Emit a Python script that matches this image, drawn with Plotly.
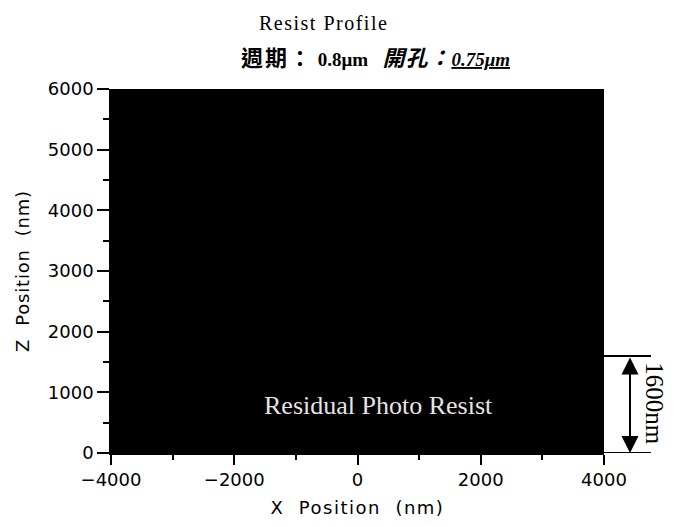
import plotly.graph_objects as go

# Data
profile_x = [-4000, 4000]          # resist extent (nm)
profile_top = [6000, 6000]         # resist top surface (nm)
residual_thickness = 1600          # nm
x_ticks = [-4000, -2000, 0, 2000, 4000]
x_ticklabels = ["\u22124000", "\u22122000", "0", "2000", "4000"]
y_ticks = [0, 1000, 2000, 3000, 4000, 5000, 6000]

fig = go.Figure()
fig.add_trace(go.Scatter(
    x=profile_x, y=profile_top, mode="lines", fill="tozeroy",
    line=dict(color="black", width=0), fillcolor="black",
    showlegend=False, hoverinfo="skip"))

axis_font = dict(family="DejaVu Sans", size=18, color="black")

# page body has an 8px margin -> compensate so plot area sits at x 111-604, y 89-453
fig.update_layout(
    width=668, height=519,
    margin=dict(l=103, r=72, t=81, b=74),
    plot_bgcolor="white", paper_bgcolor="white",
    showlegend=False,
    xaxis=dict(range=[-4000, 4000], tickvals=x_ticks, ticktext=x_ticklabels,
               ticks="outside", ticklen=10, tickwidth=1.5, tickcolor="black",
               minor=dict(dtick=1000, tick0=0, ticks="outside", ticklen=5, tickwidth=1.5, tickcolor="black"),
               showline=True, linecolor="black", linewidth=1.5,
               showgrid=False, zeroline=False, tickfont=axis_font, automargin=False,
               title=dict(text="<span style='letter-spacing:1.5px'>X  Position  (nm)</span>",
                          font=axis_font, standoff=12)),
    yaxis=dict(range=[0, 6000], tickvals=y_ticks,
               ticks="outside", ticklen=12, tickwidth=1.5, tickcolor="black",
               minor=dict(dtick=500, tick0=0, ticks="outside", ticklen=6, tickwidth=1.5, tickcolor="black"),
               showline=True, linecolor="black", linewidth=1.5,
               showgrid=False, zeroline=False, tickfont=axis_font, automargin=False,
               title=dict(text="<span style='letter-spacing:0.8px'>Z  Position  (nm)</span>",
                          font=axis_font, standoff=14)),
)

# Title and subtitle (figure starts 8px below the window top)
fig.add_annotation(text="<span style='letter-spacing:1.5px'>Resist Profile</span>",
                   xref="paper", yref="paper", xanchor="center", yanchor="middle",
                   x=(323 - 111) / 493, y=1 + (89 - 23) / 364, showarrow=False,
                   font=dict(family="Liberation Serif", size=20, color="black"))
fig.add_annotation(
    text=("<b><span style='font-size:22px;letter-spacing:2px'>週期：</span> 0.8μm</b>"
          "   <b><i><span style='font-size:22px;letter-spacing:1px'>開孔：</span>"
          "<span style='text-decoration:underline'>0.75μm</span></i></b>"),
    xref="paper", yref="paper", xanchor="center", yanchor="middle",
    x=(375 - 111) / 493, y=1 + (89 - 58) / 364,
    showarrow=False, font=dict(family="Liberation Serif, Noto Sans CJK TC", size=19, color="black"))

# In-plot label
fig.add_annotation(text="Residual Photo Resist", xref="x", yref="y",
                   xanchor="center", yanchor="middle",
                   x=333, y=790, showarrow=False,
                   font=dict(family="Liberation Serif", size=26, color="#e4e4e4"))

# Thickness marker
x_line_end = (651 - 111) / 493
x_arrow = (630 - 111) / 493
for z in [0, residual_thickness]:
    fig.add_shape(type="line", xref="paper", yref="y", x0=1.0, x1=x_line_end,
                  y0=z, y1=z, line=dict(color="black", width=2))
fig.add_annotation(xref="paper", yref="y", x=x_arrow, y=0,
                   axref="pixel", ax=0, ayref="y", ay=residual_thickness,
                   showarrow=True, arrowhead=2, startarrowhead=2, arrowside="end+start",
                   arrowsize=1.7, startarrowsize=1.7, arrowwidth=2, arrowcolor="black", text="")
fig.add_annotation(text=f"{residual_thickness}nm", xref="paper", yref="y",
                   xanchor="center", yanchor="middle",
                   x=(655 - 111) / 493, y=residual_thickness / 2 + 20, showarrow=False,
                   textangle=90, font=dict(family="Liberation Serif", size=25, color="black"))

fig.write_html("out.html")
